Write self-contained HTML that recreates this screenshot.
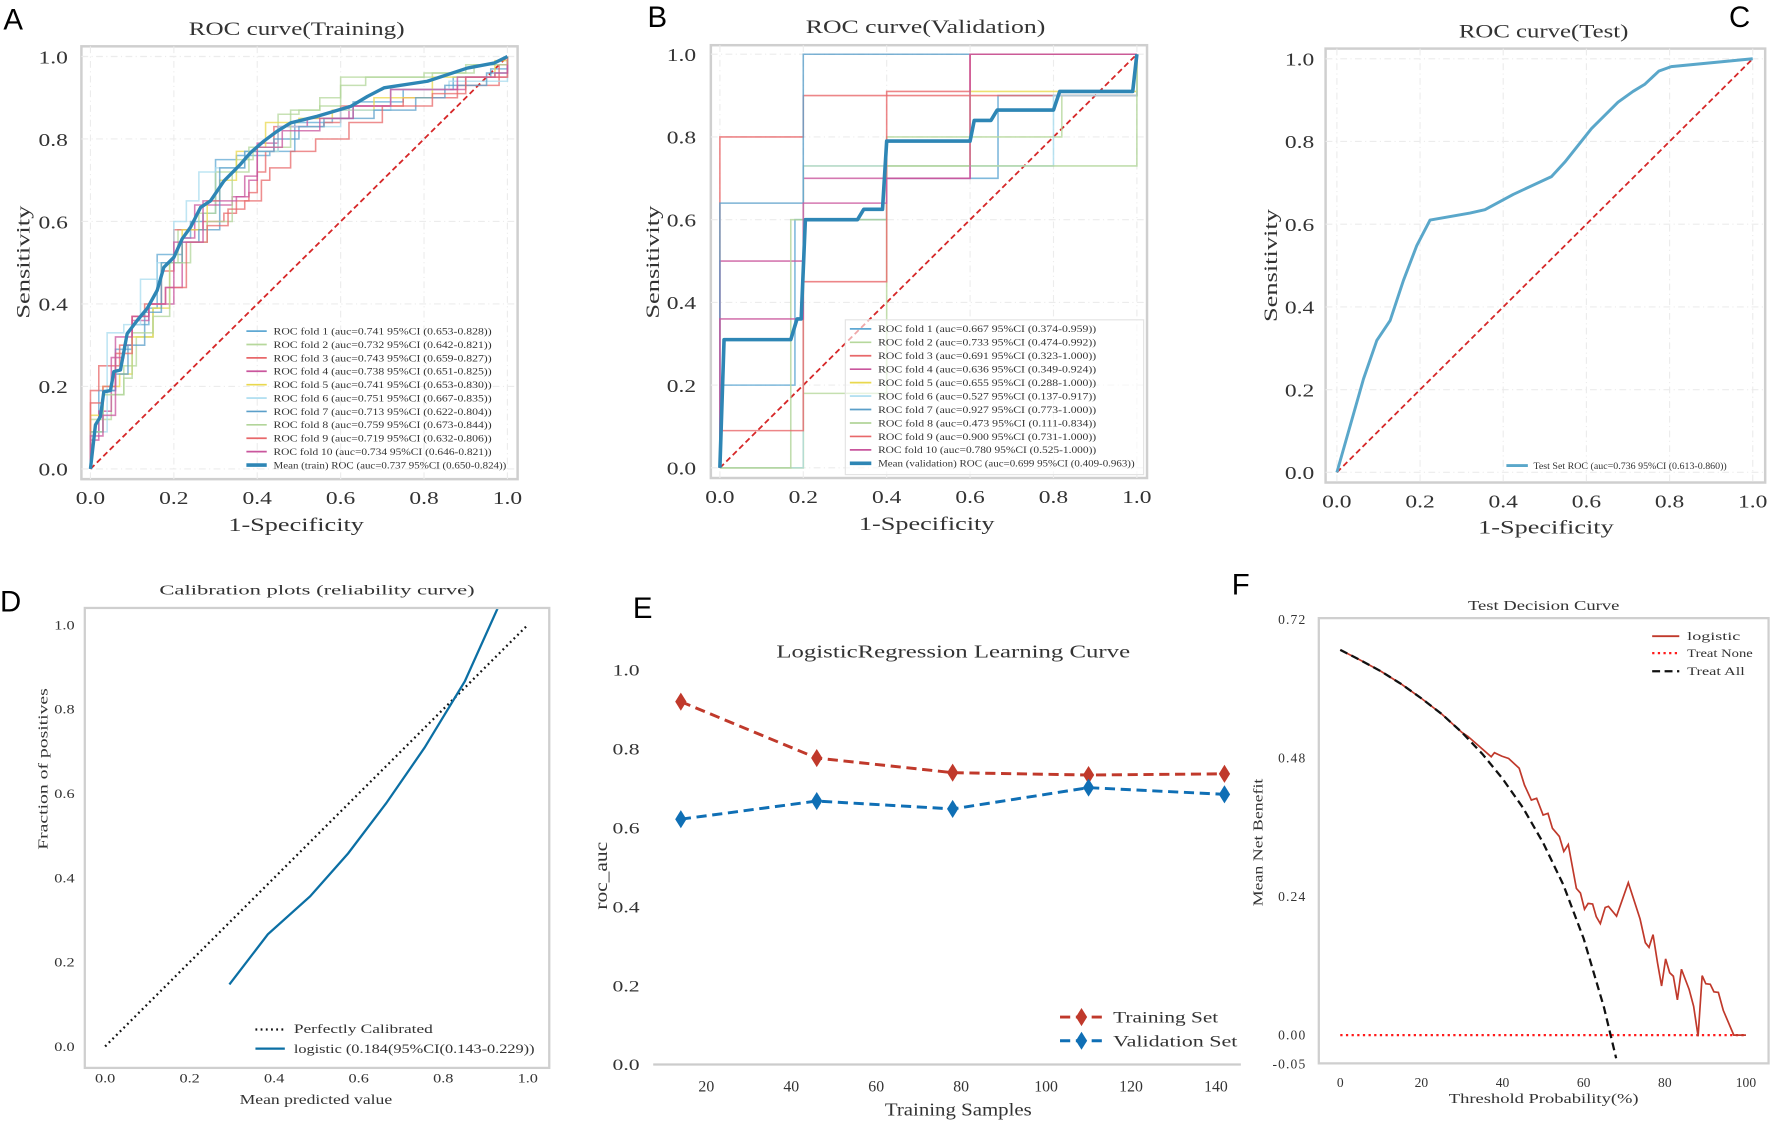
<!DOCTYPE html>
<html><head><meta charset="utf-8"><style>
html,body{margin:0;padding:0;background:#fff;}
svg{display:block;}
text{font-family:"Liberation Serif","Noto Serif CJK SC",serif;fill:#333;}
.L{font-family:"Liberation Sans",sans-serif;fill:#000;}
</style></head><body>
<svg id="fig" xmlns="http://www.w3.org/2000/svg" width="1772" height="1121" viewBox="0 0 1568 992">
<rect x="0" y="0" width="1568" height="992" fill="#fff"/>
<text class="L" x="3" y="26" font-size="26">A</text>
<text class="L" x="573" y="24" font-size="26">B</text>
<text class="L" x="1530" y="24" font-size="26">C</text>
<text class="L" x="0" y="541" font-size="26">D</text>
<text class="L" x="560" y="547" font-size="26">E</text>
<text class="L" x="1090" y="526" font-size="26">F</text>
<text x="167" y="31" font-size="17" textLength="191" lengthAdjust="spacingAndGlyphs">ROC curve(Training)</text>
<text x="202" y="470" font-size="17" textLength="120" lengthAdjust="spacingAndGlyphs">1-Specificity</text>
<text transform="translate(26,282) rotate(-90)" font-size="17" textLength="100" lengthAdjust="spacingAndGlyphs">Sensitivity</text>
<text x="713" y="29" font-size="17" textLength="212" lengthAdjust="spacingAndGlyphs">ROC curve(Validation)</text>
<text x="760" y="469" font-size="17" textLength="120" lengthAdjust="spacingAndGlyphs">1-Specificity</text>
<text transform="translate(583,282) rotate(-90)" font-size="17" textLength="100" lengthAdjust="spacingAndGlyphs">Sensitivity</text>
<text x="1291" y="33" font-size="17" textLength="150" lengthAdjust="spacingAndGlyphs">ROC curve(Test)</text>
<text x="1308" y="472" font-size="17" textLength="120" lengthAdjust="spacingAndGlyphs">1-Specificity</text>
<text transform="translate(1130,285) rotate(-90)" font-size="17" textLength="100" lengthAdjust="spacingAndGlyphs">Sensitivity</text>
<text x="141" y="526" font-size="12.5" textLength="279" lengthAdjust="spacingAndGlyphs">Calibration plots  (reliability curve)</text>
<text x="212" y="977" font-size="12.5" textLength="135" lengthAdjust="spacingAndGlyphs">Mean predicted value</text>
<text transform="translate(42,752) rotate(-90)" font-size="12.5" textLength="143" lengthAdjust="spacingAndGlyphs">Fraction of positives</text>
<text x="687" y="582" font-size="16" textLength="313" lengthAdjust="spacingAndGlyphs">LogisticRegression Learning Curve</text>
<text x="783" y="987" font-size="16" textLength="130" lengthAdjust="spacingAndGlyphs">Training Samples</text>
<text transform="translate(537,805) rotate(-90)" font-size="16" textLength="60" lengthAdjust="spacingAndGlyphs">roc_auc</text>
<text x="1299" y="540" font-size="12" textLength="134" lengthAdjust="spacingAndGlyphs">Test Decision Curve</text>
<text x="1282" y="976" font-size="12.5" textLength="168" lengthAdjust="spacingAndGlyphs">Threshold Probability(%)</text>
<text transform="translate(1117,802) rotate(-90)" font-size="12.5" textLength="113" lengthAdjust="spacingAndGlyphs">Mean Net Benefit</text>
<g id="plots"></g>
</svg>
<script>
// ---------- DATA ----------
const rocTicks = [0, 0.2, 0.4, 0.6, 0.8, 1.0];
const rocTickLabels = ["0.0", "0.2", "0.4", "0.6", "0.8", "1.0"];
const foldColors = ["#5fa8d3", "#b6d89c", "#e8686a", "#c9569d", "#e9d84e", "#a9dcef", "#5b9fc9", "#b2d59a", "#e8686a", "#c9569d"];

const trainFold1 = [[0,0.09],[0.02,0.19],[0.06,0.29],[0.1,0.35],[0.14,0.39],[0.16,0.52],[0.22,0.56],[0.24,0.6],[0.27,0.62],[0.3,0.75],[0.35,0.76],[0.43,0.77],[0.49,0.84],[0.58,0.85],[0.63,0.89],[0.75,0.92],[0.87,0.95],[0.96,0.97],[1,1]];
const trainFold2 = [[0,0.12],[0.05,0.18],[0.08,0.25],[0.11,0.32],[0.15,0.39],[0.17,0.5],[0.21,0.58],[0.26,0.62],[0.3,0.72],[0.35,0.75],[0.39,0.77],[0.45,0.86],[0.5,0.87],[0.55,0.9],[0.6,0.95],[0.82,0.96],[0.9,0.98],[1,1]];
const trainFold3 = [[0,0.19],[0.02,0.25],[0.07,0.3],[0.1,0.37],[0.13,0.4],[0.17,0.48],[0.2,0.58],[0.27,0.6],[0.32,0.62],[0.35,0.65],[0.38,0.67],[0.4,0.72],[0.42,0.77],[0.44,0.83],[0.56,0.84],[0.6,0.88],[0.75,0.9],[0.88,0.93],[0.98,0.98],[1,1]];
const trainFold4 = [[0,0.07],[0.02,0.14],[0.05,0.27],[0.08,0.3],[0.1,0.36],[0.14,0.4],[0.2,0.44],[0.22,0.56],[0.25,0.64],[0.34,0.66],[0.37,0.71],[0.4,0.79],[0.45,0.83],[0.52,0.85],[0.62,0.88],[0.72,0.92],[0.9,0.95],[1,1]];
const trainFold5 = [[0,0.13],[0.03,0.2],[0.07,0.23],[0.1,0.32],[0.15,0.39],[0.19,0.5],[0.22,0.58],[0.28,0.65],[0.31,0.7],[0.35,0.77],[0.4,0.78],[0.42,0.84],[0.5,0.85],[0.58,0.87],[0.68,0.9],[0.82,0.95],[0.97,0.99],[1,1]];
const trainFold6 = [[0,0.09],[0.04,0.33],[0.08,0.35],[0.12,0.46],[0.16,0.5],[0.2,0.6],[0.23,0.65],[0.26,0.72],[0.3,0.73],[0.37,0.77],[0.45,0.83],[0.6,0.87],[0.72,0.92],[0.86,0.94],[1,1]];
const trainFold7 = [[0,0.09],[0.03,0.19],[0.06,0.23],[0.09,0.3],[0.13,0.38],[0.17,0.5],[0.22,0.55],[0.26,0.58],[0.31,0.73],[0.37,0.77],[0.44,0.8],[0.5,0.83],[0.56,0.85],[0.68,0.87],[0.78,0.9],[0.85,0.93],[0.95,0.96],[1,1]];
const trainFold8 = [[0,0.09],[0.03,0.18],[0.08,0.22],[0.1,0.33],[0.15,0.37],[0.19,0.5],[0.24,0.55],[0.28,0.6],[0.34,0.72],[0.38,0.78],[0.48,0.87],[0.55,0.88],[0.6,0.93],[0.66,0.95],[0.8,0.96],[0.92,0.98],[1,1]];
const trainFold9 = [[0,0.16],[0.03,0.2],[0.06,0.28],[0.1,0.37],[0.14,0.4],[0.18,0.44],[0.23,0.55],[0.28,0.59],[0.33,0.63],[0.37,0.65],[0.41,0.7],[0.43,0.73],[0.48,0.77],[0.54,0.8],[0.62,0.84],[0.7,0.88],[0.82,0.91],[0.9,0.95],[1,0.98],[1,1]];
const trainFold10 = [[0,0.08],[0.03,0.13],[0.06,0.32],[0.1,0.37],[0.14,0.4],[0.18,0.44],[0.2,0.55],[0.27,0.65],[0.35,0.66],[0.38,0.7],[0.4,0.78],[0.46,0.82],[0.55,0.85],[0.63,0.88],[0.72,0.92],[0.88,0.95],[0.97,0.96],[1,0.98]];
const trainMean = [[0,0],[0.012,0.107],[0.024,0.127],[0.032,0.187],[0.048,0.19],[0.056,0.236],[0.072,0.24],[0.088,0.328],[0.112,0.36],[0.136,0.389],[0.16,0.433],[0.176,0.489],[0.2,0.513],[0.22,0.558],[0.24,0.586],[0.264,0.634],[0.288,0.65],[0.32,0.698],[0.36,0.739],[0.384,0.767],[0.416,0.795],[0.448,0.819],[0.48,0.839],[0.544,0.855],[0.624,0.879],[0.664,0.903],[0.704,0.924],[0.808,0.94],[0.904,0.972],[0.968,0.984],[1,1]];
const trainLegend = ["ROC fold    1 (auc=0.741 95%CI (0.653-0.828))","ROC fold    2 (auc=0.732 95%CI (0.642-0.821))","ROC fold    3 (auc=0.743 95%CI (0.659-0.827))","ROC fold    4 (auc=0.738 95%CI (0.651-0.825))","ROC fold    5 (auc=0.741 95%CI (0.653-0.830))","ROC fold    6 (auc=0.751 95%CI (0.667-0.835))","ROC fold    7 (auc=0.713 95%CI (0.622-0.804))","ROC fold    8 (auc=0.759 95%CI (0.673-0.844))","ROC fold    9 (auc=0.719 95%CI (0.632-0.806))","ROC fold   10 (auc=0.734 95%CI (0.646-0.821))","Mean (train) ROC (auc=0.737 95%CI (0.650-0.824))"];

const valFold1 = [[0,0.2],[0.18,0.6],[0.4,0.7],[0.667,0.9],[1,1]];
const valFold2 = [[0.2,0.18],[0.4,0.8],[0.82,0.9],[1,1]];
const valFold3 = [[0,0.8],[0.2,0.9],[1,1]];
const valFold4 = [[0,0.5],[0.2,0.7],[0.6,1],[1,1]];
const valFold5 = [[0.2,0.73],[0.6,0.91],[1,1]];
const valFold6 = [[0.2,0.73],[0.667,0.73],[0.8,0.9],[1,1]];
const valFold7 = [[0,0.64],[0.2,1],[1,1]];
const valFold8 = [[0.17,0.6],[0.4,0.73],[1,1]];
const valFold9 = [[0,0.09],[0.2,0.45],[0.4,0.91],[0.6,1],[1,1]];
const valFold10 = [[0,0.36],[0.2,0.64],[0.4,0.7],[0.6,1],[1,1]];
const valMean = [[0,0],[0.01,0.31],[0.17,0.31],[0.185,0.36],[0.195,0.36],[0.205,0.6],[0.33,0.6],[0.345,0.625],[0.39,0.625],[0.4,0.79],[0.6,0.79],[0.61,0.84],[0.65,0.84],[0.665,0.865],[0.8,0.865],[0.815,0.91],[0.99,0.91],[1,1]];
const valLegend = ["ROC fold    1 (auc=0.667 95%CI (0.374-0.959))","ROC fold    2 (auc=0.733 95%CI (0.474-0.992))","ROC fold    3 (auc=0.691 95%CI (0.323-1.000))","ROC fold    4 (auc=0.636 95%CI (0.349-0.924))","ROC fold    5 (auc=0.655 95%CI (0.288-1.000))","ROC fold    6 (auc=0.527 95%CI (0.137-0.917))","ROC fold    7 (auc=0.927 95%CI (0.773-1.000))","ROC fold    8 (auc=0.473 95%CI (0.111-0.834))","ROC fold    9 (auc=0.900 95%CI (0.731-1.000))","ROC fold   10 (auc=0.780 95%CI (0.525-1.000))","Mean (validation) ROC (auc=0.699 95%CI (0.409-0.963))"];

const testFpr = [0,0.064,0.096,0.128,0.16,0.192,0.224,0.32,0.356,0.424,0.516,0.548,0.612,0.676,0.712,0.74,0.774,0.804,1];
const testTpr = [0,0.226,0.319,0.367,0.464,0.548,0.61,0.627,0.635,0.672,0.715,0.75,0.831,0.895,0.921,0.938,0.97,0.981,1];

const calibPred = [0.294,0.385,0.485,0.575,0.665,0.756,0.851,0.933];
const calibFrac = [0.147,0.266,0.356,0.458,0.577,0.709,0.866,1.049];
const calibTicks = [0,0.2,0.4,0.6,0.8,1.0];
const calibTickLabels = ["0.0","0.2","0.4","0.6","0.8","1.0"];

const lcSamples = [14,46,78,110,142];
const lcTrain = [0.92,0.777,0.74,0.734,0.737];
const lcVal = [0.622,0.668,0.648,0.702,0.685];
const lcXTicks = [20,40,60,80,100,120,140];
const lcYTicks = [0,0.2,0.4,0.6,0.8,1.0];
const lcYTickLabels = ["0.0","0.2","0.4","0.6","0.8","1.0"];

const dcaThresh = [0,5,10,15,20,25,30,31.5,37.2,38,39.8,41.5,44.1,45.4,47.1,48.4,50,51.2,52.3,54,55.1,56.2,58.2,59.2,60.2,61.1,62.2,63.1,64.1,65.3,66.1,68.1,71,73.9,75.2,76.1,77.1,78.2,79.2,80.2,81.2,82.1,83.1,84.1,86,87.1,88.2,89.2,90.1,91.2,92.1,93.2,94.4,97,100];
const dcaModel = [0.667,0.649,0.63,0.608,0.583,0.556,0.524,0.517,0.482,0.489,0.483,0.479,0.462,0.433,0.407,0.41,0.381,0.384,0.358,0.344,0.318,0.33,0.254,0.246,0.218,0.228,0.227,0.205,0.193,0.221,0.223,0.206,0.264,0.201,0.16,0.152,0.174,0.125,0.085,0.132,0.108,0.102,0.061,0.114,0.079,0.05,-0.002,0.103,0.089,0.088,0.075,0.074,0.043,0,0];
const dcaAllThresh = [0,5,10,15,20,25,30,35,40,45,50,55,60,65,68];
const dcaAll = [0.667,0.649,0.63,0.608,0.583,0.556,0.524,0.487,0.444,0.394,0.333,0.26,0.167,0.048,-0.04];
const dcaNoneThresh = [0,100];
const dcaNone = [0,0];
const dcaXTicks = [0,20,40,60,80,100];
const dcaYTicks = [0.72,0.48,0.24,0,-0.05];
const dcaYTickLabels = ["0.72","0.48","0.24","0.00","-0.05"];

// ---------- HELPERS ----------
const NS = "http://www.w3.org/2000/svg";
const root = document.getElementById('plots');
function mk(tag, attrs, name, parent) {
  const e = document.createElementNS(NS, tag);
  for (const k in attrs) e.setAttribute(k, attrs[k]);
  
  
  (parent || root).appendChild(e);
  return e;
}
function txt(x, y, s, size, anchor, name, extra) {
  const t = mk('text', Object.assign({x: x, y: y, 'font-size': size, 'text-anchor': anchor || 'middle'}, extra || {}), name);
  t.textContent = s;
  return t;
}
function lin(d0, d1, p0, p1) { return v => p0 + (v - d0) / (d1 - d0) * (p1 - p0); }
function stepPath(pts, sx, sy) {
  let d = 'M' + sx(0) + ',' + sy(0);
  let cy = 0;
  for (const p of pts) { d += ' L' + sx(p[0]) + ',' + sy(cy) + ' L' + sx(p[0]) + ',' + sy(p[1]); cy = p[1]; }
  d += ' L' + sx(1) + ',' + sy(cy);
  return d;
}
function linePath(xs, ys, sx, sy) {
  return xs.map((x, i) => (i ? 'L' : 'M') + sx(x) + ',' + sy(ys[i])).join(' ');
}
function rocFrame(key, box, sx, sy, labelY, labelX) {
  mk('rect', {x: box[0], y: box[1], width: box[2], height: box[3], fill: 'none', stroke: '#cfcfcf', 'stroke-width': 2.2}, 'plot-frame-' + key);
  rocTicks.forEach((t, i) => {
    mk('line', {x1: sx(t), x2: sx(t), y1: box[1], y2: box[1] + box[3], stroke: '#ececec', 'stroke-width': 1, 'stroke-dasharray': '6,3,1,3'}, 'x-gridline-' + key);
    mk('line', {x1: box[0], x2: box[0] + box[2], y1: sy(t), y2: sy(t), stroke: '#ececec', 'stroke-width': 1, 'stroke-dasharray': '6,3,1,3'}, 'y-gridline-' + key);
    txt(sx(t) - 13, labelY, rocTickLabels[i], 16, 'start', 'x-tick-label-' + key, {textLength: 26, lengthAdjust: 'spacingAndGlyphs'});
    txt(labelX - 26, sy(t) + 6, rocTickLabels[i], 16, 'start', 'y-tick-label-' + key, {textLength: 26, lengthAdjust: 'spacingAndGlyphs'});
  });
  mk('line', {x1: sx(0), y1: sy(0), x2: sx(1), y2: sy(1), stroke: '#d62728', 'stroke-width': 1.6, 'stroke-dasharray': '5,3'}, 'chance-diagonal-' + key);
}

// ---------- PANEL A ----------
(function () {
  const sx = lin(0, 1, 80, 449), sy = lin(0, 1, 415, 50);
  rocFrame('a', [72, 41, 386, 383], sx, sy, 446, 60);
  const folds = [trainFold1, trainFold2, trainFold3, trainFold4, trainFold5, trainFold6, trainFold7, trainFold8, trainFold9, trainFold10];
  folds.forEach((f, i) => {
    const p = mk('path', {d: stepPath(f, sx, sy), fill: 'none', stroke: foldColors[i], 'stroke-width': 1.4, 'stroke-opacity': 0.75}, 'train-fold-curve');
    
  });
  mk('path', {d: linePath(trainMean.map(p => p[0]), trainMean.map(p => p[1]), sx, sy), fill: 'none', stroke: '#2e86b5', 'stroke-width': 3, 'stroke-linejoin': 'round'}, 'train-mean-roc-curve');
  trainLegend.forEach((s, i) => {
    const y = 293 + i * 11.85;
    mk('line', {x1: 218, x2: 236, y1: y, y2: y, stroke: i < 10 ? foldColors[i] : '#2e86b5', 'stroke-width': i < 10 ? 1.5 : 3.2}, 'legend-line-a');
    txt(242, y + 3, s, 8, 'start', 'legend-entry-a', {'xml:space': 'preserve', 'fill': '#555', textLength: i < 10 ? 193 : 206, lengthAdjust: 'spacingAndGlyphs'});
  });
})();

// ---------- PANEL B ----------
(function () {
  const sx = lin(0, 1, 637, 1006), sy = lin(0, 1, 414, 48);
  rocFrame('b', [629, 40, 386, 383], sx, sy, 445, 616);
  const folds = [valFold1, valFold2, valFold3, valFold4, valFold5, valFold6, valFold7, valFold8, valFold9, valFold10];
  folds.forEach((f, i) => {
    const p = mk('path', {d: stepPath(f, sx, sy), fill: 'none', stroke: foldColors[i], 'stroke-width': 1.4, 'stroke-opacity': 0.8}, 'val-fold-curve');
    
  });
  mk('path', {d: linePath(valMean.map(p => p[0]), valMean.map(p => p[1]), sx, sy), fill: 'none', stroke: '#2e86b5', 'stroke-width': 3.2, 'stroke-linejoin': 'round'}, 'val-mean-roc-curve');
  mk('rect', {x: 748, y: 283, width: 264, height: 137, fill: '#fff', 'fill-opacity': 0.6, stroke: '#e3e3e3', 'stroke-width': 1}, 'legend-box-b');
  valLegend.forEach((s, i) => {
    const y = 291 + i * 11.9;
    mk('line', {x1: 752, x2: 771, y1: y, y2: y, stroke: i < 10 ? foldColors[i] : '#2e86b5', 'stroke-width': i < 10 ? 1.5 : 3.2}, 'legend-line-b');
    txt(777, y + 3, s, 8, 'start', 'legend-entry-b', {'xml:space': 'preserve', 'fill': '#555', textLength: i < 10 ? 193 : 227, lengthAdjust: 'spacingAndGlyphs'});
  });
})();

// ---------- PANEL C ----------
(function () {
  const sx = lin(0, 1, 1183, 1551), sy = lin(0, 1, 418, 52);
  rocFrame('c', [1173, 43, 389, 384], sx, sy, 449, 1163);
  mk('path', {d: linePath(testFpr, testTpr, sx, sy), fill: 'none', stroke: '#5aa7ca', 'stroke-width': 2.6, 'stroke-linejoin': 'round'}, 'test-roc-curve');
  mk('line', {x1: 1333, x2: 1352, y1: 412, y2: 412, stroke: '#5aa7ca', 'stroke-width': 2.6}, 'legend-line-c');
  txt(1357, 415, 'Test Set ROC (auc=0.736 95%CI (0.613-0.860))', 8, 'start', 'legend-entry-c', {'fill': '#555', textLength: 171, lengthAdjust: 'spacingAndGlyphs'});
})();

// ---------- PANEL D ----------
(function () {
  const sx = lin(0, 1, 93, 467), sy = lin(0, 1, 926, 553);
  mk('rect', {x: 75, y: 538, width: 411, height: 407, fill: 'none', stroke: '#cfcfcf', 'stroke-width': 2}, 'plot-frame-d');
  calibTicks.forEach((t, i) => {
    txt(sx(t) - 9, 958, calibTickLabels[i], 11.5, 'start', 'x-tick-label-d', {textLength: 18, lengthAdjust: 'spacingAndGlyphs'});
    txt(48, sy(t) + 4, calibTickLabels[i], 11.5, 'start', 'y-tick-label-d', {textLength: 18, lengthAdjust: 'spacingAndGlyphs'});
  });
  const cp = document.createElementNS(NS, 'clipPath');
  cp.setAttribute('id', 'clipD');
  
  
  const cr = document.createElementNS(NS, 'rect');
  cr.setAttribute('x', 76); cr.setAttribute('y', 539); cr.setAttribute('width', 409); cr.setAttribute('height', 405);
  
  
  cp.appendChild(cr); root.appendChild(cp);
  mk('line', {x1: sx(0), y1: sy(0), x2: sx(1), y2: sy(1), stroke: '#111', 'stroke-width': 2, 'stroke-dasharray': '1.6,3'}, 'perfectly-calibrated-line');
  mk('path', {d: linePath(calibPred, calibFrac, sx, sy), fill: 'none', stroke: '#0b6fa4', 'stroke-width': 2, 'clip-path': 'url(#clipD)'}, 'logistic-calibration-curve');
  mk('line', {x1: 226, x2: 252, y1: 911, y2: 911, stroke: '#111', 'stroke-width': 2, 'stroke-dasharray': '1.6,3'}, 'legend-line-d-perfect');
  txt(260, 914, 'Perfectly Calibrated', 11, 'start', 'legend-entry-d-perfect', {textLength: 123, lengthAdjust: 'spacingAndGlyphs'});
  mk('line', {x1: 226, x2: 252, y1: 928, y2: 928, stroke: '#0b6fa4', 'stroke-width': 2}, 'legend-line-d-logistic');
  txt(260, 932, 'logistic (0.184(95%CI(0.143-0.229))', 11, 'start', 'legend-entry-d-logistic', {textLength: 213, lengthAdjust: 'spacingAndGlyphs'});
})();

// ---------- PANEL E ----------
(function () {
  const sx = lin(20, 140, 625, 1076), sy = lin(0, 1, 942, 593);
  mk('line', {x1: 578, x2: 1098, y1: 942, y2: 942, stroke: '#cccccc', 'stroke-width': 2}, 'x-axis-line-e');
  lcXTicks.forEach(t => txt(sx(t), 966, String(t), 14, 'middle', 'x-tick-label-e'));
  lcYTicks.forEach((t, i) => txt(542, sy(t) + 5, lcYTickLabels[i], 14, 'start', 'y-tick-label-e', {textLength: 24, lengthAdjust: 'spacingAndGlyphs'}));
  function series(vals, color, key) {
    mk('path', {d: linePath(lcSamples, vals, sx, sy), fill: 'none', stroke: color, 'stroke-width': 2.6, 'stroke-dasharray': '9,5'}, key + '-line');
    lcSamples.forEach((s, i) => {
      const x = sx(s), y = sy(vals[i]);
      mk('path', {d: 'M' + x + ',' + (y - 8) + ' L' + (x + 5) + ',' + y + ' L' + x + ',' + (y + 8) + ' L' + (x - 5) + ',' + y + 'Z', fill: color}, key + '-marker');
    });
  }
  series(lcTrain, '#c0392b', 'training-set');
  series(lcVal, '#0f6fb5', 'validation-set');
  [['Training Set', '#c0392b', 900, 93], ['Validation Set', '#0f6fb5', 921, 110]].forEach(l => {
    mk('line', {x1: 938, x2: 975, y1: l[2], y2: l[2], stroke: l[1], 'stroke-width': 2.6, 'stroke-dasharray': '9,5'}, 'legend-line-e');
    mk('path', {d: 'M957,' + (l[2] - 8) + ' L962,' + l[2] + ' L957,' + (l[2] + 8) + ' L952,' + l[2] + 'Z', fill: l[1]}, 'legend-marker-e');
    txt(985, l[2] + 5, l[0], 14, 'start', 'legend-entry-e', {textLength: l[3], lengthAdjust: 'spacingAndGlyphs'});
  });
})();

// ---------- PANEL F ----------
(function () {
  const sx = lin(0, 100, 1186, 1545), sy = lin(0, 0.72, 916, 548);
  mk('rect', {x: 1167, y: 547, width: 398, height: 394, fill: 'none', stroke: '#cfcfcf', 'stroke-width': 2}, 'plot-frame-f');
  dcaXTicks.forEach(t => txt(sx(t), 962, String(t), 12, 'middle', 'x-tick-label-f'));
  dcaYTicks.forEach((t, i) => txt(1156, sy(t) + 4, dcaYTickLabels[i], 12, 'end', 'y-tick-label-f', {'letter-spacing': 1}));
  mk('path', {d: linePath(dcaNoneThresh, dcaNone, sx, sy), fill: 'none', stroke: '#ff1a1a', 'stroke-width': 2, 'stroke-dasharray': '2,3'}, 'treat-none-line');
  mk('path', {d: linePath(dcaThresh, dcaModel, sx, sy), fill: 'none', stroke: '#c0392b', 'stroke-width': 1.5}, 'logistic-net-benefit-line');
  mk('path', {d: linePath(dcaAllThresh, dcaAll, sx, sy), fill: 'none', stroke: '#111', 'stroke-width': 2, 'stroke-dasharray': '7,4'}, 'treat-all-line');
  [['logistic', '#c0392b', 563, 'none', 1.6, 47], ['Treat None', '#ff1a1a', 578, '2,3', 2, 58], ['Treat All', '#111', 594, '7,4', 2, 51]].forEach(l => {
    mk('line', {x1: 1462, x2: 1486, y1: l[2], y2: l[2], stroke: l[1], 'stroke-width': l[4], 'stroke-dasharray': l[3]}, 'legend-line-f');
    txt(1493, l[2] + 3.5, l[0], 10.5, 'start', 'legend-entry-f', {textLength: l[5], lengthAdjust: 'spacingAndGlyphs'});
  });
})();
</script>
</body></html>
